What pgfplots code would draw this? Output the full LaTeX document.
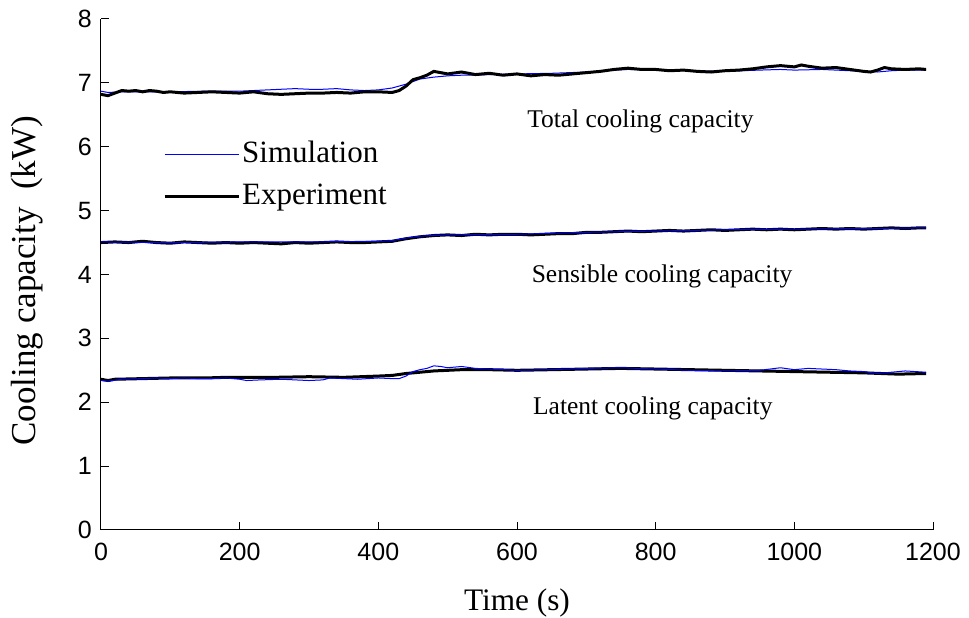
\documentclass[border=0pt]{standalone}
\usepackage{pgfplots}
\pgfplotsset{compat=1.18}
\usepackage{fontspec}
\setmainfont{Liberation Serif}
\newfontfamily\tickfont{Liberation Sans}
\definecolor{simblue}{RGB}{0,0,255}
\begin{document}
\begin{tikzpicture}
\useasboundingbox (-101pt,-88pt) rectangle (868pt,530pt);
\begin{axis}[
 at={(0pt,0pt)}, anchor=south west,
 scale only axis, width=832pt, height=511pt,
 xmin=0, xmax=1200, ymin=0, ymax=8,
 axis lines=left, axis line style={-, line width=1pt},
 xtick={0,200,...,1200}, ytick={0,1,...,8},
 tick align=inside, major tick length=8pt, tick style={line width=1pt, black},
 tick label style={font=\fontsize{25}{25}\tickfont},
 xticklabel style={inner sep=0pt, anchor=north, yshift=-13pt},
 yticklabel style={inner sep=0pt, anchor=east, xshift=-9pt},
 /pgf/number format/assume math mode=true,
 /pgf/number format/1000 sep={},
 xlabel={Time (s)}, ylabel={Cooling capacity\ \ (kW)},
 xlabel style={font=\fontsize{31.3}{31.3}\selectfont, at={(axis description cs:0.5,-0.1566)}, anchor=base},
 ylabel style={font=\fontsize{35}{35}\selectfont, at={(axis description cs:-0.079,0.488)}, anchor=base},
 legend cell align=left,
 legend style={draw=none, fill=none, at={(axis description cs:0.0745,0.767)}, anchor=north west,
   font=\fontsize{31}{31}\selectfont, inner sep=0pt, row sep=9pt,
   nodes={text height=22pt, text depth=7pt, inner sep=2pt},
   /tikz/every even column/.append style={column sep=0pt}},
 legend image code/.code={\draw[#1] (0pt,0pt) -- (74pt,0pt);},
]
% ---------- Total ----------
\addplot[simblue, line width=1pt] coordinates {
(0,6.87)(10,6.85)(30,6.86)(60,6.86)(100,6.86)(150,6.87)(200,6.87)(220,6.88)(240,6.89)(260,6.90)(280,6.91)(300,6.90)(320,6.90)(340,6.91)(360,6.89)(380,6.88)(400,6.89)(420,6.92)(440,6.98)(460,7.06)(480,7.09)(500,7.11)(520,7.12)(540,7.12)(560,7.13)(600,7.14)(650,7.15)(700,7.17)(740,7.20)(760,7.21)(800,7.20)(850,7.19)(900,7.18)(950,7.20)(980,7.21)(1000,7.20)(1040,7.21)(1080,7.19)(1100,7.18)(1120,7.17)(1140,7.19)(1160,7.20)(1190,7.20)};
\addlegendentry{Simulation}
\addplot[black, line width=3pt] coordinates {
(0,6.82)(10,6.80)(20,6.84)(30,6.88)(40,6.87)(50,6.88)(60,6.86)(70,6.88)(80,6.87)(90,6.85)(100,6.86)(120,6.84)(140,6.85)(160,6.86)(180,6.85)(200,6.84)(220,6.86)(240,6.83)(260,6.82)(280,6.83)(300,6.84)(320,6.84)(340,6.85)(360,6.84)(380,6.86)(400,6.86)(420,6.85)(430,6.88)(440,6.95)(450,7.05)(460,7.08)(470,7.12)(480,7.18)(490,7.16)(500,7.14)(520,7.17)(540,7.13)(560,7.15)(580,7.12)(600,7.14)(620,7.11)(640,7.13)(660,7.12)(680,7.14)(700,7.16)(720,7.18)(740,7.21)(760,7.23)(780,7.21)(800,7.21)(820,7.19)(840,7.20)(860,7.18)(880,7.17)(900,7.19)(920,7.20)(940,7.22)(960,7.25)(980,7.27)(1000,7.25)(1010,7.28)(1020,7.26)(1040,7.23)(1060,7.24)(1080,7.21)(1100,7.18)(1110,7.17)(1120,7.20)(1130,7.24)(1140,7.22)(1160,7.21)(1180,7.22)(1190,7.21)};
\addlegendentry{Experiment}
% ---------- Sensible ----------
\addplot[black, line width=3pt, forget plot] coordinates {
(0,4.50)(20,4.51)(40,4.50)(60,4.52)(80,4.50)(100,4.49)(120,4.51)(140,4.50)(160,4.49)(180,4.50)(200,4.49)(220,4.50)(240,4.49)(260,4.48)(280,4.50)(300,4.49)(320,4.50)(340,4.51)(360,4.50)(380,4.50)(400,4.51)(420,4.52)(440,4.56)(460,4.59)(480,4.61)(500,4.62)(520,4.61)(540,4.63)(560,4.62)(580,4.63)(600,4.63)(620,4.62)(640,4.63)(660,4.64)(680,4.64)(700,4.66)(720,4.66)(740,4.67)(760,4.68)(780,4.67)(800,4.68)(820,4.69)(840,4.68)(860,4.69)(880,4.70)(900,4.69)(920,4.70)(940,4.71)(960,4.70)(980,4.71)(1000,4.70)(1020,4.71)(1040,4.72)(1060,4.71)(1080,4.72)(1100,4.71)(1120,4.72)(1140,4.73)(1160,4.72)(1180,4.73)(1190,4.73)};
\addplot[simblue, line width=1pt, forget plot] coordinates {
(0,4.51)(100,4.50)(200,4.51)(300,4.51)(400,4.52)(420,4.53)(440,4.57)(460,4.60)(500,4.62)(600,4.63)(700,4.66)(800,4.68)(900,4.70)(1000,4.71)(1100,4.72)(1190,4.73)};
% ---------- Latent ----------
\addplot[black, line width=3pt, forget plot] coordinates {
(0,2.36)(10,2.34)(20,2.36)(60,2.37)(100,2.38)(150,2.38)(180,2.39)(200,2.39)(250,2.39)(300,2.40)(350,2.39)(400,2.41)(420,2.42)(440,2.45)(460,2.47)(480,2.49)(500,2.50)(520,2.51)(560,2.51)(600,2.50)(650,2.51)(700,2.52)(750,2.53)(800,2.52)(850,2.51)(900,2.50)(950,2.49)(1000,2.48)(1050,2.47)(1100,2.46)(1150,2.44)(1190,2.45)};
\addplot[simblue, line width=1pt, forget plot] coordinates {
(0,2.34)(10,2.33)(30,2.36)(60,2.37)(80,2.38)(100,2.37)(120,2.38)(140,2.37)(160,2.37)(180,2.38)(200,2.36)(210,2.34)(230,2.35)(260,2.36)(280,2.35)(300,2.34)(320,2.35)(330,2.38)(350,2.37)(370,2.36)(400,2.38)(420,2.37)(430,2.37)(440,2.41)(450,2.48)(460,2.51)(470,2.53)(480,2.57)(490,2.56)(500,2.54)(520,2.56)(540,2.53)(560,2.52)(600,2.50)(650,2.51)(700,2.53)(750,2.54)(800,2.52)(850,2.50)(900,2.49)(950,2.50)(980,2.54)(1000,2.51)(1020,2.53)(1040,2.52)(1060,2.51)(1080,2.49)(1100,2.48)(1120,2.45)(1140,2.47)(1160,2.49)(1175,2.48)(1190,2.47)};
% ---------- Annotations ----------
\node[anchor=base west, font=\fontsize{25.5}{25.5}\selectfont, inner sep=0pt] at (axis cs:614.5,6.30) {Total cooling capacity};
\node[anchor=base west, font=\fontsize{25.5}{25.5}\selectfont, inner sep=0pt] at (axis cs:621,3.88) {Sensible cooling capacity};
\node[anchor=base west, font=\fontsize{25.5}{25.5}\selectfont, inner sep=0pt] at (axis cs:623,1.81) {Latent cooling capacity};
\end{axis}
\end{tikzpicture}
\end{document}
